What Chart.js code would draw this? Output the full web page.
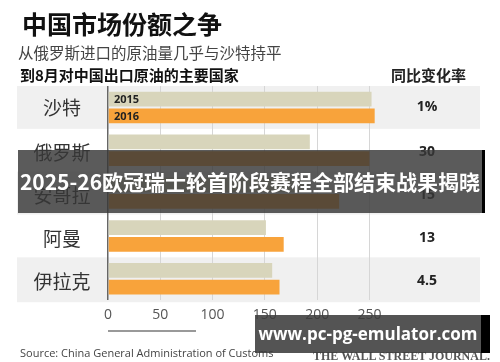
<!DOCTYPE html>
<html>
<head>
<meta charset="utf-8">
<script src="https://cdn.jsdelivr.net/npm/chart.js@4.4.1/dist/chart.umd.min.js"></script>
<style>
  body { margin: 0; background: #fff; }
  #wrap { position: relative; width: 500px; height: 362px; overflow: hidden; font-family: "Noto Sans CJK SC", "Noto Sans", sans-serif; }
  #wrap canvas { position: absolute; left: 0; top: 0; }
  .t { position: absolute; white-space: nowrap; line-height: 1; }
  #title { left: 22px; top: 11px; font-size: 25px; font-weight: 700; color: #111; }
  #sub { left: 18px; top: 45px; font-size: 15.5px; color: #444; }
  #head { left: 20px; top: 67px; font-size: 15px; font-weight: 700; color: #111; }
  #chg { left: 391px; top: 67px; font-size: 15px; font-weight: 700; color: #222; }
  #src { left: 20px; top: 347px; font-size: 11px; color: #444; font-family: "Open Sans", sans-serif; }
  #wsj { left: 313px; top: 350px; font-size: 12px; font-weight: 700; color: #555; font-family: "Liberation Serif", serif; }
  #line1 { position: absolute; left: 108px; top: 330px; width: 88px; height: 2px; background: #999; }
  #banner { position: absolute; left: 18px; top: 150px; width: 464px; height: 63px; background: rgba(55,55,55,0.82); border-right: 3px solid #000; }
  #banner span { position: absolute; left: 0; right: 0; top: 21px; text-align: center; color: #fff; font-size: 21px; font-weight: 700; line-height: 1; }
  #wm { position: absolute; left: 255px; top: 315px; width: 226px; height: 38px; background: rgba(60,60,60,0.88); border-right: 9px solid #000; }
  #wm span { position: absolute; left: 0; right: 0; top: 10px; text-align: center; color: #fff; font-size: 17px; font-weight: 700; line-height: 1; font-family: "Open Sans", sans-serif; }
</style>
</head>
<body>
<div id="wrap">
  <canvas id="myChart" width="500" height="362"></canvas>
  <div class="t" id="title">中国市场份额之争</div>
  <div class="t" id="sub">从俄罗斯进口的原油量几乎与沙特持平</div>
  <div class="t" id="head">到8月对中国出口原油的主要国家</div>
  <div class="t" id="chg">同比变化率</div>
  <div id="line1"></div>
  <div class="t" id="src">Source: China General Administration of Customs</div>
  <div class="t" id="wsj">THE WALL STREET JOURNAL.</div>
  <div id="banner"><span>2025-26欧冠瑞士轮首阶段赛程全部结束战果揭晓</span></div>
  <div id="wm"><span>www.pc-pg-emulator.com</span></div>
</div>
<script>
// data
var countries = ["沙特", "俄罗斯", "安哥拉", "阿曼", "伊拉克"];
var years = ["2015", "2016"];
var values2015 = [252, 193, 192, 151, 157];
var values2016 = [255, 250, 221, 168, 164];
var changes = ["1%", "30", "15", "13", "4.5"];
var xTicks = [0, 50, 100, 150, 200, 250];

// alternating row bands + labels + change column
var rowsPlugin = {
    id: 'rows',
    beforeDraw: function (chart) {
        var ctx = chart.ctx;
        var y = chart.scales.y;
        var half = (y.getPixelForTick(1) - y.getPixelForTick(0)) / 2;
        ctx.save();
        ctx.fillStyle = '#fff';
        ctx.fillRect(0, 0, chart.width, chart.height);
        for (var i = 0; i < countries.length; i++) {
            if (i % 2 === 0) {
                var c = y.getPixelForTick(i);
                ctx.fillStyle = '#f0f0f0';
                ctx.fillRect(17, c - half, 463, half * 2 + (i === countries.length - 1 ? 2 : 0));
            }
        }
        ctx.restore();
    },
    afterDatasetsDraw: function (chart) {
        var ctx = chart.ctx;
        var y = chart.scales.y;
        ctx.save();
        ctx.textBaseline = 'middle';
        for (var i = 0; i < countries.length; i++) {
            var c = y.getPixelForTick(i);
            ctx.textAlign = 'center';
            ctx.fillStyle = '#333';
            ctx.font = '19px "Noto Sans CJK SC"';
            ctx.fillText(countries[i], 62, c + (i === 0 ? 0 : 3));
            ctx.fillStyle = '#222';
            ctx.font = 'bold 14px "Open Sans"';
            ctx.fillText(changes[i], 427, c + (i === 0 ? 0 : 2));
        }
        // year labels inside the first pair of bars
        ctx.textAlign = 'left';
        ctx.font = 'bold 11px "Open Sans"';
        ctx.fillStyle = '#222';
        for (var d = 0; d < 2; d++) {
            var bar = chart.getDatasetMeta(d).data[0];
            ctx.fillText(years[d], chart.chartArea.left + 6, bar.y + 1);
        }
        ctx.restore();
    }
};

var graficoContainer = document.getElementById('myChart');
var grafico = new Chart(graficoContainer, {
    type: 'bar',
    data: {
        labels: countries,
        datasets: [{
            label: years[0],
            data: values2015,
            backgroundColor: '#d8d5bb'
        }, {
            label: years[1],
            data: values2016,
            backgroundColor: '#f8a33b'
        }]
    },
    options: {
        indexAxis: 'y',
        responsive: false,
        animation: false,
        categoryPercentage: 0.78,
        barPercentage: 0.88,
        layout: { padding: { left: 108, right: 118, top: 86, bottom: 33 } },
        plugins: { legend: { display: false }, tooltip: { enabled: false } },
        scales: {
            x: {
                min: 0,
                max: 262,
                afterBuildTicks: function (scale) {
                    scale.ticks = xTicks.map(function (v) { return { value: v }; });
                },
                border: { display: false },
                grid: {
                    drawTicks: false,
                    color: function (c) { return c.tick && c.tick.value === 0 ? '#666' : '#d6d6d6'; },
                    lineWidth: function (c) { return c.tick && c.tick.value === 0 ? 1.5 : 1; }
                },
                ticks: { padding: 6, color: '#555', font: { size: 14, family: 'Open Sans' } }
            },
            y: {
                display: false
            }
        }
    },
    plugins: [rowsPlugin]
});
</script>
</body>
</html>
